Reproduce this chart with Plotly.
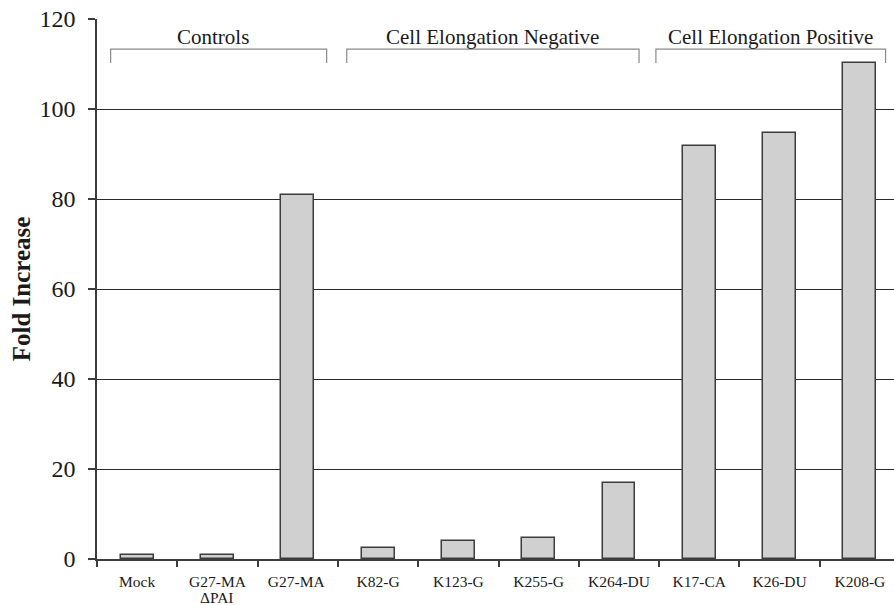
import plotly.graph_objects as go

categories = ["Mock", "G27-MA", "G27-MA ", "K82-G", "K123-G", "K255-G",
              "K264-DU", "K17-CA", "K26-DU", "K208-G"]
fold_increase = [0.8, 1.0, 80.9, 2.4, 4.0, 4.7, 16.9, 91.7, 94.7, 110.2]
second_line_labels = {1: "ΔPAI"}

group_labels = ["Controls", "Cell Elongation Negative", "Cell Elongation Positive"]
# bracket extents in category-index units, and label centers
group_start = [-0.33, 2.61, 6.46]
group_end = [2.36, 6.25, 9.32]
group_label_x = [0.94, 4.43, 7.89]

FONT = "Liberation Serif"

fig = go.Figure()
fig.add_trace(go.Bar(
    x=categories,
    y=fold_increase,
    width=0.41,
    marker=dict(color="#d0d0d0", line=dict(color="#3c3c3c", width=1.5)),
    showlegend=False,
    hoverinfo="skip",
))

shapes = []
annotations = []
for lab, s, e, cx in zip(group_labels, group_start, group_end, group_label_x):
    shapes.append(dict(
        type="path", xref="x", yref="y",
        path=f"M {s},110.2 L {s},113.3 L {e},113.3 L {e},110.2",
        line=dict(color="#8a8a8a", width=1.2),
    ))
    annotations.append(dict(
        x=cx, y=116.0, xref="x", yref="y", text=lab, showarrow=False,
        font=dict(family=FONT, size=21, color="#1a1a1a"),
        xanchor="center", yanchor="middle",
    ))
for idx, txt in second_line_labels.items():
    annotations.append(dict(
        x=idx, y=-0.071, xref="x", yref="paper", text=txt, showarrow=False,
        font=dict(family=FONT, size=15.5, color="#1a1a1a"),
        xanchor="center", yanchor="middle",
    ))

fig.update_layout(
    width=894, height=605,
    margin=dict(l=97, r=0, t=19, b=46),
    paper_bgcolor="white", plot_bgcolor="white",
    shapes=shapes, annotations=annotations,
    font=dict(family=FONT, color="#1a1a1a"),
    bargap=0,
)
fig.update_xaxes(
    type="category",
    range=[-0.5, 9.425],
    tickson="boundaries",
    showline=True, linecolor="#3c3c3c", linewidth=1.5,
    ticks="outside", ticklen=6, tickcolor="#3c3c3c", tickwidth=1.5,
    tickfont=dict(family=FONT, size=15.5, color="#1a1a1a"),
    ticklabelstandoff=8,
    showgrid=False, zeroline=False, automargin=False,
)
fig.update_yaxes(
    range=[0, 120], tickvals=[0, 20, 40, 60, 80, 100, 120],
    showline=True, linecolor="#3c3c3c", linewidth=1.5,
    ticks="outside", ticklen=7, tickcolor="#3c3c3c", tickwidth=1.5,
    tickfont=dict(family=FONT, size=24, color="#1a1a1a"),
    ticklabelstandoff=8, ticklabeloverflow="allow",
    showgrid=True, gridcolor="#2a2a2a", gridwidth=1,
    zeroline=False, automargin=False,
    title=dict(text="<b>Fold Increase</b>", font=dict(family=FONT, size=25, color="#1a1a1a"),
               standoff=2),
)

fig.write_html("out.html", post_script="document.body.style.margin='0';",
               config={"displayModeBar": False})
